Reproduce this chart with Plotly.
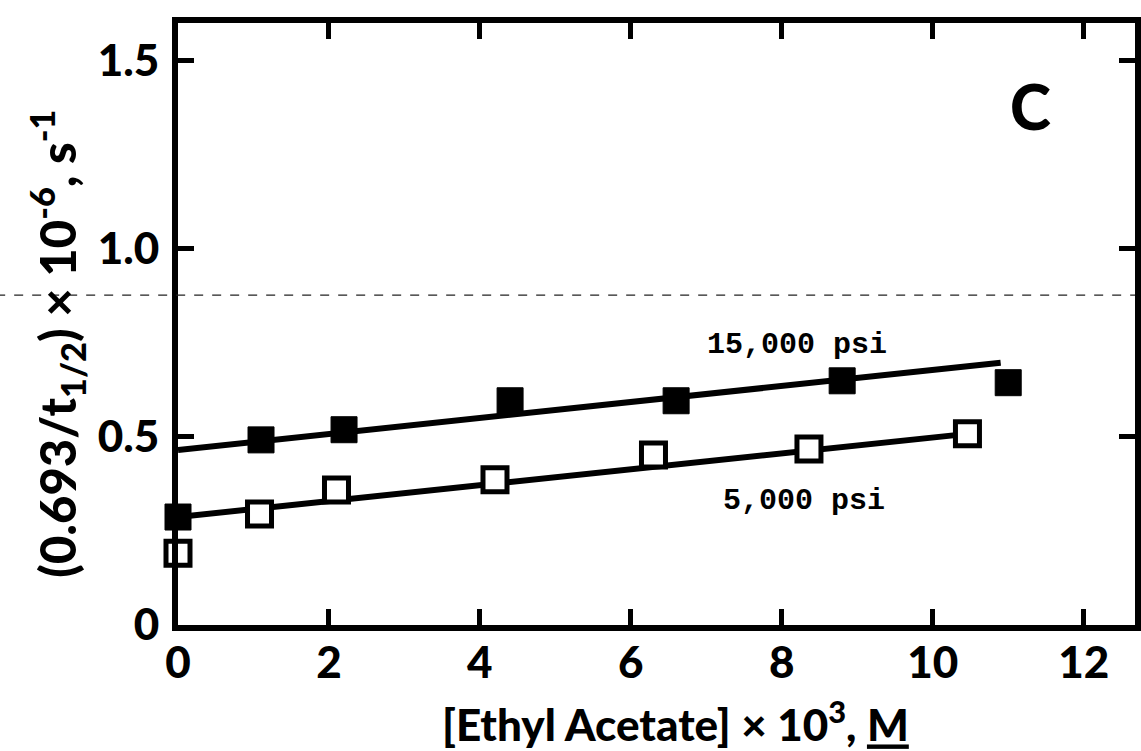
import plotly.graph_objects as go

# Ethyl acetate concentration (x 10^3 M) and first-order rate constants (x 10^6 s^-1)
conc_15k = [0.0, 1.1, 2.2, 4.4, 6.6, 8.8, 11.0]
rate_15k = [0.287, 0.492, 0.519, 0.596, 0.596, 0.649, 0.644]

conc_5k = [0.0, 1.08, 2.1, 4.2, 6.3, 8.36, 10.46]
rate_5k = [0.191, 0.295, 0.359, 0.386, 0.452, 0.468, 0.508]

# Fitted straight lines (end points)
fit_15k_x = [0.0, 10.9]
fit_15k_y = [0.465, 0.697]
fit_5k_x = [0.0, 10.46]
fit_5k_y = [0.287, 0.508]

x_ticks = [0, 2, 4, 6, 8, 10, 12]
y_ticks = [0, 0.5, 1.0, 1.5]
y_tick_text = ["0", "0.5", "1.0", "1.5"]

series_labels = ["15,000 psi", "5,000 psi"]
label_pos = [(8.2, 0.745), (8.3, 0.33)]

LW = 6
SANS = "Lato"

fig = go.Figure()

fig.add_trace(go.Scatter(x=fit_15k_x, y=fit_15k_y, mode="lines",
                         line=dict(color="black", width=LW), cliponaxis=False,
                         showlegend=False, hoverinfo="skip"))
fig.add_trace(go.Scatter(x=fit_5k_x, y=fit_5k_y, mode="lines",
                         line=dict(color="black", width=LW), cliponaxis=False,
                         showlegend=False, hoverinfo="skip"))

fig.add_trace(go.Scatter(x=conc_5k, y=rate_5k, mode="markers", name="5,000 psi",
                         marker=dict(symbol="square", size=24, color="white",
                                     line=dict(color="black", width=5)),
                         cliponaxis=False, showlegend=False))
fig.add_trace(go.Scatter(x=conc_15k, y=rate_15k, mode="markers", name="15,000 psi",
                         marker=dict(symbol="square", size=26, color="black",
                                     line=dict(color="black", width=1)),
                         cliponaxis=False, showlegend=False))

annotations = []
for text, (ax, ay) in zip(series_labels, label_pos):
    annotations.append(dict(x=ax, y=ay, xref="x", yref="y", text=text,
                            showarrow=False, xanchor="center", yanchor="middle",
                            font=dict(family="Liberation Mono", size=30,
                                      color="black", weight="bold")))

# Panel letter
annotations.append(dict(x=11.3, y=1.38, xref="x", yref="y", text="C",
                        showarrow=False, xanchor="center", yanchor="middle",
                        font=dict(family=SANS, size=62, color="black", weight=900)))

# Axis titles
annotations.append(dict(x=-0.126, y=0.468, xref="paper", yref="paper",
                        text="(0.693/t<sub>1/2</sub>) × 10<sup>-6</sup>, s<sup>-1</sup>",
                        textangle=-90, showarrow=False,
                        xanchor="center", yanchor="middle",
                        font=dict(family=SANS, size=49, color="black", weight=900)))
annotations.append(dict(x=0.52, y=-0.16, xref="paper", yref="paper",
                        text="[Ethyl Acetate] × 10<sup>3</sup>, <u>M</u>",
                        showarrow=False, xanchor="center", yanchor="middle",
                        font=dict(family=SANS, size=44, color="black", weight=900)))

axis_common = dict(showgrid=False, zeroline=False, showline=True,
                   linecolor="black", linewidth=LW, mirror="allticks",
                   ticks="inside", ticklen=16, tickwidth=5, tickcolor="black",
                   tickfont=dict(family=SANS, size=44, color="black", weight=900))

fig.update_layout(
    width=1141, height=751,
    margin=dict(l=178, r=0, t=23, b=126),
    paper_bgcolor="white", plot_bgcolor="white",
    xaxis=dict(range=[0, 12.68], tickvals=x_ticks, ticklabelstandoff=-6, **axis_common),
    yaxis=dict(range=[0, 1.6], tickvals=y_ticks, ticktext=y_tick_text,
               ticklabelstandoff=4, **axis_common),
    annotations=annotations,
    shapes=[dict(type="line", xref="paper", yref="paper", x0=-0.19, x1=1.0,
                 y0=0.548, y1=0.548,
                 line=dict(color="#222222", width=1.2, dash="dash"))],
)

fig.write_html("out.html")
